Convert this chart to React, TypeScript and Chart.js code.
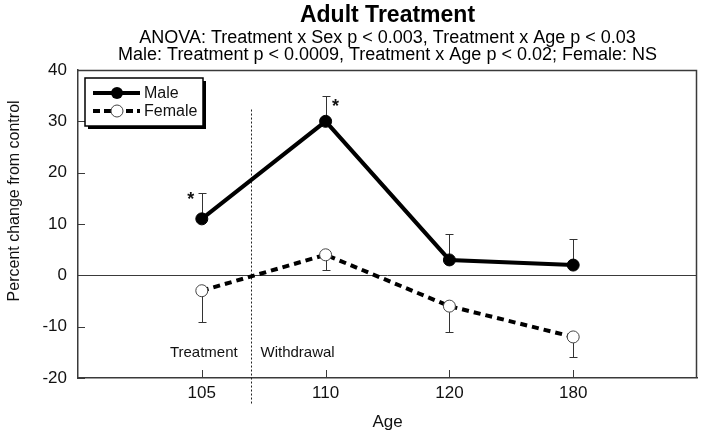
import React, { useEffect, useRef } from 'react';
import { Chart, registerables } from 'chart.js';

Chart.register(...registerables);

// ---- data ----
const ageLabels = ['105', '110', '120', '180'];
const agePositions = [1, 2, 3, 4];
const maleValues = [11, 30, 3, 2];
const maleErrorTop = [16, 35, 8, 7];
const femaleValues = [-3, 4, -6, -12];
const femaleErrorBottom = [-9, 1, -11, -16];
const maleSignificant = [true, true, false, false];
const yTickValues = [-20, -10, 0, 10, 20, 30, 40];
const phaseLabels = ['Treatment', 'Withdrawal'];
const dividerPosition = 1.4;

const titleText = 'Adult Treatment';
const subtitleLines = [
  'ANOVA: Treatment x Sex p < 0.003, Treatment x Age p < 0.03',
  'Male: Treatment p < 0.0009, Treatment x Age p < 0.02; Female: NS',
];
const yTitle = 'Percent change from control';
const xTitle = 'Age';
const seriesNames = ['Male', 'Female'];

const FONT = '"Liberation Sans", Arial, Helvetica, sans-serif';
const AXIS = '#3a3a3a';

const overlayPlugin = {
  id: 'overlay',
  beforeDatasetsDraw(chart: any) {
    const { ctx, chartArea: a, scales } = chart;
    const x = scales.x;
    const y = scales.y;
    ctx.save();
    ctx.lineWidth = 1;
    ctx.strokeStyle = AXIS;

    // top and right frame
    ctx.beginPath();
    ctx.moveTo(a.left, a.top + 0.5);
    ctx.lineTo(a.right - 0.5, a.top + 0.5);
    ctx.lineTo(a.right - 0.5, a.bottom);
    ctx.lineWidth = 1.5;
    ctx.stroke();
    ctx.lineWidth = 1;

    // zero line
    const y0 = Math.round(y.getPixelForValue(0)) + 0.5;
    ctx.beginPath();
    ctx.moveTo(a.left, y0);
    ctx.lineTo(a.right, y0);
    ctx.stroke();

    // inner ticks
    ctx.beginPath();
    yTickValues.forEach((v) => {
      const py = Math.round(y.getPixelForValue(v)) + 0.5;
      ctx.moveTo(a.left, py);
      ctx.lineTo(a.left + 7, py);
    });
    agePositions.forEach((p) => {
      const px = Math.round(x.getPixelForValue(p)) + 0.5;
      ctx.moveTo(px, a.bottom);
      ctx.lineTo(px, a.bottom - 8);
    });
    ctx.stroke();

    // divider
    const dx = Math.round(x.getPixelForValue(dividerPosition)) + 0.5;
    ctx.save();
    ctx.setLineDash([2, 2]);
    ctx.strokeStyle = '#222';
    ctx.beginPath();
    ctx.moveTo(dx, y.getPixelForValue(32.3));
    ctx.lineTo(dx, a.bottom + 27);
    ctx.stroke();
    ctx.restore();

    // phase labels
    ctx.fillStyle = '#111';
    ctx.font = `15px ${FONT}`;
    ctx.textBaseline = 'middle';
    const ly = y.getPixelForValue(-15.1);
    ctx.textAlign = 'center';
    ctx.fillText(phaseLabels[0], x.getPixelForValue(agePositions[0]) + 2, ly);
    ctx.textAlign = 'left';
    ctx.fillText(phaseLabels[1], dx + 9, ly);

    // error bars
    ctx.strokeStyle = '#333';
    ctx.lineWidth = 1;
    const bar = (p: number, from: number, to: number) => {
      const px = Math.round(x.getPixelForValue(p)) + 0.5;
      const y1 = y.getPixelForValue(from);
      const y2 = Math.round(y.getPixelForValue(to)) + 0.5;
      ctx.beginPath();
      ctx.moveTo(px, y1);
      ctx.lineTo(px, y2);
      ctx.moveTo(px - 4, y2);
      ctx.lineTo(px + 4, y2);
      ctx.stroke();
    };
    agePositions.forEach((p, i) => {
      bar(p, maleValues[i], maleErrorTop[i]);
      bar(p, femaleValues[i], femaleErrorBottom[i]);
    });

    // y axis title
    ctx.save();
    ctx.fillStyle = '#111';
    ctx.font = `16px ${FONT}`;
    ctx.textAlign = 'center';
    ctx.textBaseline = 'middle';
    ctx.translate(15, y.getPixelForValue(14.5));
    ctx.rotate(-Math.PI / 2);
    ctx.fillText(yTitle, 0, 0);
    ctx.restore();

    ctx.restore();
  },
  afterDatasetsDraw(chart: any) {
    const { ctx, chartArea: a, scales } = chart;
    const x = scales.x;
    const y = scales.y;
    ctx.save();

    // asterisks
    ctx.fillStyle = '#111';
    ctx.font = `bold 18px ${FONT}`;
    ctx.textAlign = 'center';
    ctx.textBaseline = 'middle';
    maleSignificant.forEach((s, i) => {
      if (!s) return;
      const px = x.getPixelForValue(agePositions[i]);
      const py = y.getPixelForValue(maleErrorTop[i]);
      if (i === 0) ctx.fillText('*', px - 11, py + 7);
      else ctx.fillText('*', px + 10, py + 11);
    });

    // legend
    const bx = a.left + 7;
    const by = a.top + 8;
    const bw = 118;
    const bh = 48;
    ctx.fillStyle = '#000';
    ctx.fillRect(bx + 3, by + 3, bw, bh);
    ctx.fillStyle = '#fff';
    ctx.fillRect(bx, by, bw, bh);
    ctx.strokeStyle = '#000';
    ctx.lineWidth = 1.5;
    ctx.strokeRect(bx, by, bw, bh);

    const rows = [by + 15, by + 33];
    ctx.lineWidth = 4;
    // male
    ctx.beginPath();
    ctx.moveTo(bx + 8, rows[0]);
    ctx.lineTo(bx + 55, rows[0]);
    ctx.stroke();
    ctx.beginPath();
    ctx.arc(bx + 32, rows[0], 6, 0, Math.PI * 2);
    ctx.fillStyle = '#000';
    ctx.fill();
    // female
    ctx.save();
    ctx.setLineDash([7, 4]);
    ctx.beginPath();
    ctx.moveTo(bx + 8, rows[1]);
    ctx.lineTo(bx + 55, rows[1]);
    ctx.stroke();
    ctx.restore();
    ctx.beginPath();
    ctx.arc(bx + 32, rows[1], 6, 0, Math.PI * 2);
    ctx.fillStyle = '#fff';
    ctx.fill();
    ctx.lineWidth = 1;
    ctx.strokeStyle = '#444';
    ctx.stroke();

    ctx.fillStyle = '#111';
    ctx.font = `16px ${FONT}`;
    ctx.textAlign = 'left';
    ctx.textBaseline = 'middle';
    ctx.fillText(seriesNames[0], bx + 59, rows[0] + 1);
    ctx.fillText(seriesNames[1], bx + 59, rows[1] + 1);

    ctx.restore();
  },
};

export default function App() {
  const ref = useRef<HTMLCanvasElement | null>(null);

  useEffect(() => {
    if (!ref.current) return;
    const chart = new Chart(ref.current, {
      type: 'line',
      data: {
        datasets: [
          {
            label: seriesNames[0],
            data: agePositions.map((p, i) => ({ x: p, y: maleValues[i] })),
            borderColor: '#000',
            borderWidth: 4,
            pointRadius: 6,
            pointBackgroundColor: '#000',
            pointBorderColor: '#000',
            pointBorderWidth: 1,
            tension: 0,
          },
          {
            label: seriesNames[1],
            data: agePositions.map((p, i) => ({ x: p, y: femaleValues[i] })),
            borderColor: '#000',
            borderWidth: 4,
            borderDash: [7, 5],
            pointRadius: 6,
            pointBackgroundColor: '#fff',
            pointBorderColor: '#444',
            pointBorderWidth: 1,
            tension: 0,
          },
        ],
      },
      options: {
        responsive: false,
        animation: false,
        layout: { padding: { left: 0, right: 7, top: 0, bottom: 0 } },
        plugins: {
          legend: { display: false },
          tooltip: { enabled: false },
          title: {
            display: true,
            text: titleText,
            fullSize: false,
            color: '#000',
            font: { family: FONT, size: 23, weight: 'bold', lineHeight: 1.0 },
            padding: { top: 4, bottom: 0 },
          },
          subtitle: {
            display: true,
            text: subtitleLines,
            fullSize: false,
            color: '#000',
            font: { family: FONT, size: 18, lineHeight: 17 / 18 },
            padding: { top: 2.5, bottom: 6.5 },
          },
        },
        scales: {
          x: {
            type: 'linear',
            min: 0,
            max: 5,
            afterBuildTicks: (s: any) => {
              s.ticks = agePositions.map((v) => ({ value: v }));
            },
            afterFit: (s: any) => {
              s.height = 62;
            },
            ticks: {
              color: '#111',
              font: { family: FONT, size: 17 },
              padding: 5,
              maxRotation: 0,
              callback: (v: any) => {
                const i = agePositions.indexOf(Number(v));
                return i >= 0 ? ageLabels[i] : '';
              },
            },
            grid: { display: false, drawTicks: false },
            border: { display: true, color: AXIS, width: 1.5 },
            title: {
              display: true,
              text: xTitle,
              color: '#111',
              font: { family: FONT, size: 17, lineHeight: 1.2 },
              padding: { top: 0, bottom: 7 },
            },
          },
          y: {
            type: 'linear',
            min: -20,
            max: 40,
            afterBuildTicks: (s: any) => {
              s.ticks = yTickValues.map((v) => ({ value: v }));
            },
            afterFit: (s: any) => {
              s.width = 78;
            },
            ticks: {
              color: '#111',
              font: { family: FONT, size: 17 },
              padding: 11,
            },
            grid: { display: false, drawTicks: false },
            border: { display: true, color: AXIS, width: 1.5 },
          },
        },
      },
      plugins: [overlayPlugin],
    } as any);
    return () => chart.destroy();
  }, []);

  return (
    <div style={{ position: 'fixed', left: 0, top: 0, width: 704, height: 440, background: '#fff' }}>
      <canvas ref={ref} width={704} height={440} style={{ display: 'block', width: 704, height: 440 }} />
    </div>
  );
}
